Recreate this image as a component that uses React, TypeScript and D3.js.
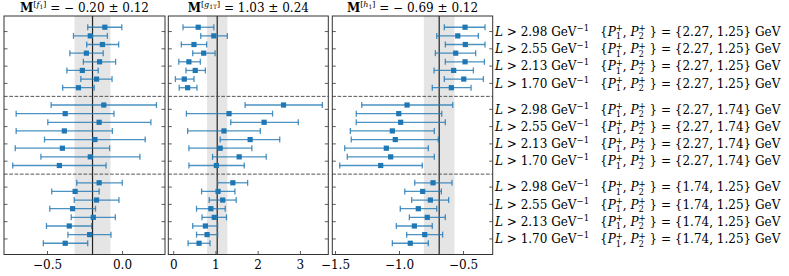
import * as d3 from "d3"

// row labels (top to bottom inside each block)
const cutLabels = ["2.98", "2.55", "2.13", "1.70"]
const momentumLabels = ["{2.27, 1.25}", "{2.27, 1.74}", "{1.74, 1.25}"]

// panel 1 : M[f1]
const f1Center = [-0.118, -0.215, -0.134, -0.241, -0.153, -0.268, -0.173, -0.294,
  -0.125, -0.382, -0.156, -0.388, -0.184, -0.401, -0.215, -0.421,
  -0.156, -0.316, -0.173, -0.333, -0.195, -0.355, -0.219, -0.382]
const f1Low = [-0.232, -0.327, -0.239, -0.351, -0.261, -0.371, -0.278, -0.399,
  -0.476, -0.709, -0.498, -0.709, -0.52, -0.715, -0.544, -0.732,
  -0.305, -0.472, -0.322, -0.485, -0.342, -0.507, -0.364, -0.528]
const f1High = [-0.005, -0.101, -0.026, -0.129, -0.046, -0.162, -0.07, -0.189,
  0.226, -0.057, 0.189, -0.068, 0.151, -0.086, 0.116, -0.11,
  -0.002, -0.156, -0.024, -0.18, -0.048, -0.206, -0.077, -0.232]

// panel 2 : M[g1T]
const g1tCenter = [0.58, 0.95, 0.48, 0.71, 0.36, 0.51, 0.25, 0.33,
  2.6, 1.31, 2.14, 1.19, 1.81, 1.1, 1.55, 1.01,
  1.4, 1.05, 1.16, 0.88, 0.96, 0.75, 0.79, 0.6]
const g1tLow = [0.22, 0.64, 0.18, 0.45, 0.12, 0.29, 0.04, 0.13,
  1.69, 0.3, 1.35, 0.33, 1.1, 0.36, 0.92, 0.36,
  1.04, 0.66, 0.84, 0.54, 0.67, 0.45, 0.54, 0.34]
const g1tHigh = [0.95, 1.27, 0.78, 0.98, 0.63, 0.75, 0.48, 0.55,
  3.52, 2.34, 2.95, 2.05, 2.51, 1.85, 2.19, 1.67,
  1.75, 1.45, 1.48, 1.22, 1.25, 1.04, 1.04, 0.86]

// panel 3 : M[h1]
const h1Center = [-0.488, -0.545, -0.486, -0.561, -0.488, -0.577, -0.498, -0.595,
  -0.941, -1.006, -0.991, -1.056, -1.033, -1.103, -1.069, -1.147,
  -0.738, -0.819, -0.759, -0.853, -0.783, -0.884, -0.803, -0.916]
const h1Low = [-0.65, -0.709, -0.642, -0.72, -0.642, -0.73, -0.65, -0.744,
  -1.295, -1.338, -1.338, -1.384, -1.377, -1.428, -1.408, -1.467,
  -0.881, -0.959, -0.905, -0.994, -0.923, -1.025, -0.944, -1.056]
const h1High = [-0.332, -0.384, -0.332, -0.405, -0.337, -0.423, -0.345, -0.441,
  -0.584, -0.67, -0.642, -0.728, -0.697, -0.775, -0.728, -0.822,
  -0.59, -0.673, -0.616, -0.709, -0.642, -0.744, -0.663, -0.775]

// combined values (band centre and half width)
const combinedCenter = [-0.2, 1.03, -0.69]
const combinedError = [0.12, 0.24, 0.12]
const panelNames = [["f", "1"], ["g", "1T"], ["h", "1"]]
const panelTicks = [[-0.5, 0.0], [0, 1, 2, 3], [-1.5, -1.0, -0.5]]

const FONT = "DejaVu Serif"
const BLUE = "#1f77b4"

const panels = [
  { left: 4, right: 165, domain: [-0.79, 0.283], fmt: d3.format(".1f"), c: f1Center, lo: f1Low, hi: f1High },
  { left: 168.3, right: 328.3, domain: [-0.128, 3.66], fmt: d3.format("d"), c: g1tCenter, lo: g1tLow, hi: g1tHigh },
  { left: 332.3, right: 492.7, domain: [-1.525, -0.272], fmt: d3.format(".1f"), c: h1Center, lo: h1Low, hi: h1High },
]

const top = 16
const bottom = 254.5

// 24 points in 3 blocks of 8, one empty slot between blocks
const slotOf = (i: number) => i + Math.floor(i / 8)
const y = d3.scaleLinear().domain([-1.3, 26.3]).range([top, bottom])

const minus = (s: string) => s.replace("-", "\u2212")

type Part = { t: string; size?: number; italic?: boolean; bold?: boolean; shift?: number; dx?: number }

function Rich({ x, y0, parts, size, anchor }: { x: number; y0: number; parts: Part[]; size: number; anchor?: string }) {
  let prev = 0
  return (
    <text x={x} y={y0} fontFamily={FONT} fontSize={size} textAnchor={anchor || "start"} fill="#000">
      {parts.map((p, i) => {
        const s = p.shift || 0
        const dy = s - prev
        prev = s
        return (
          <tspan key={i} dy={dy} dx={p.dx || 0} fontSize={p.size || size}
            fontStyle={p.italic ? "italic" : "normal"} fontWeight={p.bold ? "bold" : "normal"}>
            {p.t}
          </tspan>
        )
      })}
    </text>
  )
}

export default function App() {
  const ticksY = d3.range(12).map(k => y(slotOf(k * 2) + 0.5))
  const dashedY = [y(8), y(17)]

  return (
    <svg width={789} height={276} style={{ position: "absolute", left: 0, top: 0, background: "#fff" }}>
      {panels.map((p, pi) => {
        const x = d3.scaleLinear().domain(p.domain).range([p.left, p.right])
        const cx = x(combinedCenter[pi])
        const [nm, sub] = panelNames[pi]
        return (
          <g key={pi}>
            {/* combined band */}
            <rect x={x(combinedCenter[pi] - combinedError[pi])} y={top}
              width={x(combinedCenter[pi] + combinedError[pi]) - x(combinedCenter[pi] - combinedError[pi])}
              height={bottom - top} fill="#000" fillOpacity={0.1} />
            <line x1={cx} x2={cx} y1={top} y2={bottom} stroke="#222" strokeWidth={1.2} />
            {/* block separators */}
            {dashedY.map((dy, k) => (
              <line key={k} x1={p.left} x2={p.right} y1={dy} y2={dy} stroke="#555" strokeWidth={1} strokeDasharray="3.7,1.6" />
            ))}
            {/* error bars */}
            {p.c.map((v, i) => {
              const yy = y(slotOf(i))
              return (
                <g key={i}>
                  <line x1={x(p.lo[i])} x2={x(p.hi[i])} y1={yy} y2={yy} stroke={BLUE} strokeWidth={1.3} strokeOpacity={0.8} />
                  <line x1={x(p.lo[i])} x2={x(p.lo[i])} y1={yy - 3} y2={yy + 3} stroke={BLUE} strokeWidth={1.3} strokeOpacity={0.8} />
                  <line x1={x(p.hi[i])} x2={x(p.hi[i])} y1={yy - 3} y2={yy + 3} stroke={BLUE} strokeWidth={1.3} strokeOpacity={0.8} />
                  <rect x={x(v) - 2.6} y={yy - 2.6} width={5.2} height={5.2} fill={BLUE} />
                </g>
              )
            })}
            {/* y ticks, inward on both sides */}
            {ticksY.map((ty, k) => (
              <g key={k}>
                <line x1={p.left} x2={p.left + 3.5} y1={ty} y2={ty} stroke="#333" strokeWidth={0.8} />
                <line x1={p.right - 3.5} x2={p.right} y1={ty} y2={ty} stroke="#333" strokeWidth={0.8} />
              </g>
            ))}
            {/* x ticks */}
            {panelTicks[pi].map((t, k) => (
              <g key={k}>
                <line x1={x(t)} x2={x(t)} y1={bottom} y2={bottom - 3.5} stroke="#333" strokeWidth={0.8} />
                <text x={x(t)} y={269} textAnchor="middle" fontFamily={FONT} fontSize={12} fill="#000">
                  {minus(p.fmt(t))}
                </text>
              </g>
            ))}
            <rect x={p.left} y={top} width={p.right - p.left} height={bottom - top} fill="none" stroke="#333" strokeWidth={1} />
            {/* title */}
            <Rich x={(p.left + p.right) / 2} y0={12} size={12} anchor="middle" parts={[
              { t: "M", bold: true },
              { t: "[", size: 8, shift: -5 },
              { t: nm, size: 8, italic: true, shift: -5 },
              { t: sub, size: 6, shift: -3 },
              { t: "]", size: 8, shift: -5 },
              { t: " = " + minus(d3.format(".2f")(combinedCenter[pi])).replace("\u2212", "\u2212 ") + " \u00b1 " + d3.format(".2f")(combinedError[pi]), shift: 0 },
            ]} />
          </g>
        )
      })}
      {/* right hand row labels */}
      {ticksY.map((ty, k) => {
        const cut = cutLabels[k % 4]
        const mom = momentumLabels[Math.floor(k / 4)]
        return (
          <g key={k}>
            <Rich x={495} y0={ty + 4.3} size={12} parts={[
              { t: "L", italic: true },
              { t: " > " + cut + " GeV" },
              { t: "\u22121", size: 8.5, shift: -5 },
            ]} />
            <Rich x={600} y0={ty + 4.3} size={12} parts={[
              { t: "{" },
              { t: "P", italic: true },
              { t: "1", size: 8.5, shift: 3.5 },
              { t: "+", size: 8.5, shift: -4.5, dx: -5.4 },
              { t: ", ", shift: 0 },
              { t: "P", italic: true },
              { t: "2", size: 8.5, shift: 3.5 },
              { t: "+", size: 8.5, shift: -4.5, dx: -5.4 },
              { t: " } = " + mom + " GeV", shift: 0 },
            ]} />
          </g>
        )
      })}
    </svg>
  )
}
